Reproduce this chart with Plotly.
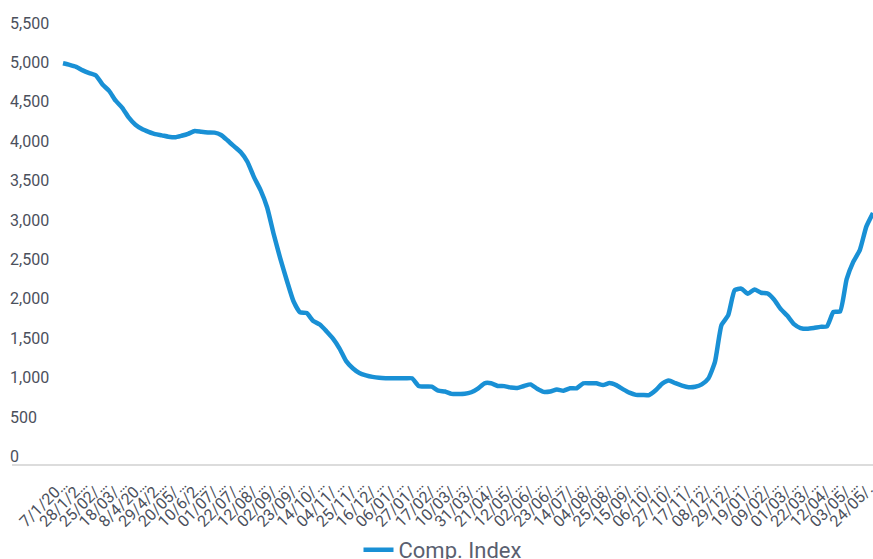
import plotly.graph_objects as go

# Weekly composite index readings (one value per week, Jan 2020 - May 2022)
comp_index = [
    4990, 4970, 4945, 4900, 4865, 4835, 4720, 4640, 4515, 4425,
    4300, 4210, 4155, 4120, 4090, 4075, 4058, 4050, 4070, 4095,
    4130, 4120, 4112, 4110, 4080, 4010, 3935, 3860, 3740, 3545,
    3380, 3160, 2820, 2510, 2230, 1970, 1830, 1820, 1720, 1675,
    1590, 1495, 1370, 1210, 1120, 1060, 1030, 1010, 998, 993,
    992, 992, 992, 992, 895, 888, 886, 835, 825, 795,
    793, 795, 815, 860, 929, 929, 895, 893, 875, 870,
    895, 915, 860, 820, 825, 850, 835, 866, 866, 929,
    929, 929, 907, 932, 905, 855, 810, 782, 780, 780,
    840, 925, 965, 930, 900, 880, 885, 915, 990, 1200,
    1670, 1790, 2110, 2130, 2065, 2120, 2078, 2068, 1990, 1870,
    1785, 1680, 1630, 1620, 1630, 1645, 1650, 1835, 1840, 2250,
    2470, 2620, 2920, 3090,
]

# Axis labels shown every third week (source dates truncated)
date_labels = [
    "7/1/20…", "28/1/2…", "25/02/…", "18/03/…", "8/4/20…", "29/4/2…",
    "20/05/…", "10/6/2…", "01/07/…", "22/07/…", "12/08/…", "02/09/…",
    "23/09/…", "14/10/…", "04/11/…", "25/11/…", "16/12/…", "06/01/…",
    "27/01/…", "17/02/…", "10/03/…", "31/03/…", "21/04/…", "12/05/…",
    "02/06/…", "23/06/…", "14/07/…", "04/08/…", "25/08/…", "15/09/…",
    "06/10/…", "27/10/…", "17/11/…", "08/12/…", "29/12/…", "19/01/…",
    "09/02/…", "01/03/…", "22/03/…", "12/04/…", "03/05/…", "24/05/…",
]
label_step = 3
y_ticks = list(range(0, 5501, 500))

weeks = list(range(len(comp_index)))
tick_positions = weeks[::label_step][:len(date_labels)]

LINE_COLOR = "#1990d5"
TEXT_COLOR = "#4b505c"
FONT = "Roboto"

# Layout geometry (pixels)
W, H = 873, 559
M_LEFT, M_TOP, M_BOTTOM = 7, 10, 94
FIRST_X = 63          # where the first week sits
BASELINE_X = 12       # where the baseline rule starts
plot_w = W - M_LEFT
plot_h = H - M_TOP - M_BOTTOM
step_px = (W - FIRST_X) / (len(comp_index) - 1)
x_start = -(FIRST_X - M_LEFT) / step_px

fig = go.Figure()
fig.add_trace(go.Scatter(
    x=weeks,
    y=comp_index,
    mode="lines",
    name="Comp. Index",
    line=dict(color=LINE_COLOR, width=4.5, shape="spline", smoothing=0.5),
    hoverinfo="x+y",
))

# baseline rule under the plot
fig.add_shape(
    type="line",
    xref="paper", yref="paper",
    x0=(BASELINE_X - M_LEFT) / plot_w, x1=1,
    y0=0, y1=0,
    line=dict(color="#dcdcdc", width=2),
    layer="below",
)

fig.update_layout(
    width=W,
    height=H,
    autosize=False,
    margin=dict(l=M_LEFT, r=0, t=M_TOP, b=M_BOTTOM, autoexpand=False),
    paper_bgcolor="white",
    plot_bgcolor="white",
    font=dict(family=FONT, color=TEXT_COLOR),
    showlegend=True,
    legend=dict(
        orientation="h",
        x=0.5 + (BASELINE_X - M_LEFT) / plot_w / 2,
        xanchor="center",
        y=-64 / plot_h,
        yanchor="top",
        font=dict(family=FONT, size=22, color="#5a6070"),
    ),
    xaxis=dict(
        range=[x_start, len(comp_index) - 1],
        tickmode="array",
        tickvals=tick_positions,
        ticktext=date_labels,
        tickangle=-45,
        tickfont=dict(family=FONT, size=16, color=TEXT_COLOR),
        ticklabeloverflow="allow",
        ticklabelstandoff=6,
        showgrid=False,
        zeroline=False,
        showline=False,
        ticks="",
        automargin=False,
    ),
    yaxis=dict(
        range=[-108, 5666],
        tickmode="array",
        tickvals=y_ticks,
        tickformat=",",
        ticklabelposition="inside",
        ticklabeloverflow="allow",
        tickfont=dict(family=FONT, size=16, color=TEXT_COLOR),
        showgrid=False,
        zeroline=False,
        showline=False,
        ticks="",
        automargin=False,
    ),
)

fig.write_html("out.html")
